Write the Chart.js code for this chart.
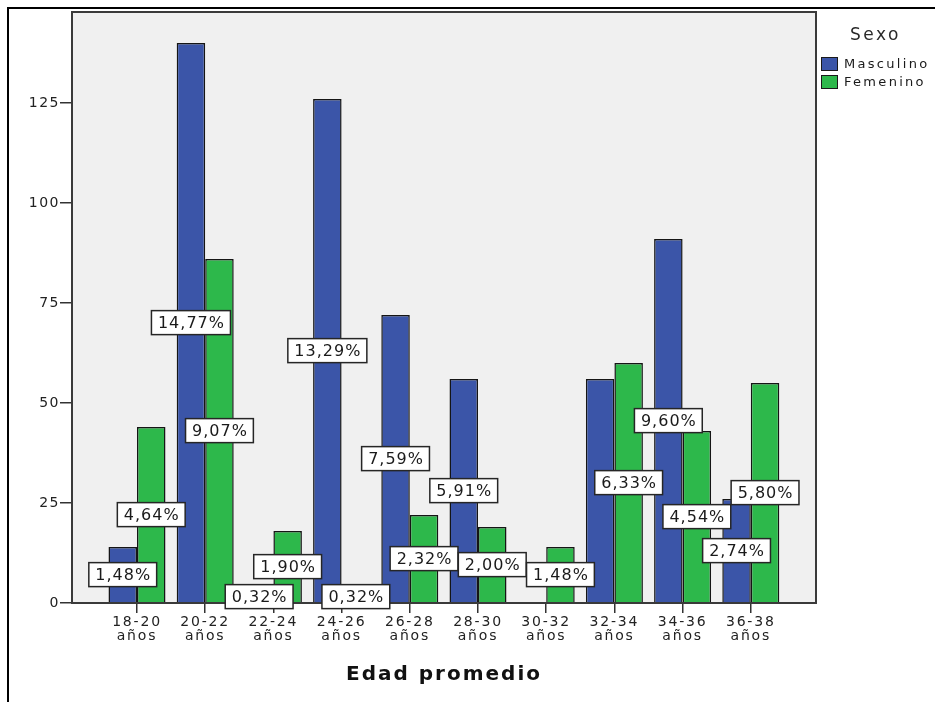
<!DOCTYPE html>
<html>
<head>
<meta charset="utf-8">
<script src="https://cdn.jsdelivr.net/npm/chart.js@4/dist/chart.umd.min.js"></script>
<style>
  html, body { margin: 0; padding: 0; background: #ffffff; }
  canvas { display: block; }
</style>
</head>
<body>
<canvas id="chart" width="935" height="702"></canvas>
<script>
// Age groups and head counts by sex
const categories = ['18-20 años', '20-22 años', '22-24 años', '24-26 años', '26-28 años',
                    '28-30 años', '30-32 años', '32-34 años', '34-36 años', '36-38 años'];
const masculino = [14, 140, 3, 126, 72, 56, 0, 56, 91, 26];
const femenino  = [44, 86, 18, 3, 22, 19, 14, 60, 43, 55];
const seriesNames = ['Masculino', 'Femenino'];
const yTickValues = [0, 25, 50, 75, 100, 125];
const legendTitle = 'Sexo';
const xAxisTitle = 'Edad promedio';

const FONT = '"DejaVu Sans", "Liberation Sans", Arial, sans-serif';
const COLORS = ['#3b55a8', '#2db84b'];

// total of all cells, used for the percentage labels
const grandTotal = masculino.concat(femenino).reduce((a, b) => a + b, 0);
const pctText = v => (v / grandTotal * 100).toFixed(2).replace('.', ',') + '%';

// Linear scale that draws its text with extra letter spacing
const spacing = { x: { ticks: 1.8, title: 2 }, y: { ticks: 1.5, title: 0 } };
class SpacedLinearScale extends Chart.LinearScale {
  drawLabels(area) {
    const c = this.ctx;
    c.save();
    c.letterSpacing = (spacing[this.id] ? spacing[this.id].ticks : 0) + 'px';
    super.drawLabels(area);
    c.restore();
  }
  drawTitle() {
    const c = this.ctx;
    c.save();
    c.letterSpacing = (spacing[this.id] ? spacing[this.id].title : 0) + 'px';
    super.drawTitle();
    c.restore();
  }
}
SpacedLinearScale.id = 'spacedLinear';
SpacedLinearScale.defaults = Chart.LinearScale.defaults;
Chart.register(SpacedLinearScale);

const toPoints = arr => arr.map((v, i) => ({ x: i, y: v }));

// plot panel background and frame
const panelPlugin = {
  id: 'panel',
  beforeDraw(chart) {
    const { ctx, chartArea: a } = chart;
    ctx.save();
    ctx.fillStyle = '#ffffff';
    ctx.fillRect(0, 0, chart.width, chart.height);
    ctx.fillStyle = '#f0f0f0';
    ctx.fillRect(a.left, a.top, a.right - a.left, a.bottom - a.top);
    ctx.restore();
  },
  afterDatasetsDraw(chart) {
    const { ctx, chartArea: a } = chart;
    ctx.save();
    ctx.strokeStyle = '#3a3a3a';
    ctx.lineWidth = 2;
    ctx.strokeRect(a.left, a.top, a.right - a.left, a.bottom - a.top);
    ctx.restore();
  }
};

// boxed percentage labels in the middle of each bar
const valueLabelPlugin = {
  id: 'valueLabels',
  afterDatasetsDraw(chart) {
    const { ctx } = chart;
    ctx.save();
    ctx.font = '16px ' + FONT;
    ctx.letterSpacing = '1px';
    ctx.textAlign = 'center';
    ctx.textBaseline = 'middle';
    const boxH = 24, padX = 6;
    const metas = chart.data.datasets.map((d, i) => chart.getDatasetMeta(i));
    categories.forEach((cat, idx) => {
      const items = [];
      metas.forEach((meta, di) => {
        const v = chart.data.datasets[di].data[idx].y;
        if (!v) return;
        const el = meta.data[idx];
        const text = pctText(v);
        const w = ctx.measureText(text).width + padX * 2;
        const cx = el.x, cy = (el.y + el.base) / 2;
        items.push({ v, text, x: cx - w / 2, y: cy - boxH / 2, w, h: boxH, cx, cy });
      });
      // when the two boxes of a group collide, keep the larger value
      let keep = items;
      if (items.length === 2) {
        const [p, q] = items;
        const hit = p.x < q.x + q.w && q.x < p.x + p.w && p.y < q.y + q.h && q.y < p.y + p.h;
        if (hit) keep = [p.v >= q.v ? p : q];
      }
      keep.forEach(b => {
        ctx.fillStyle = '#ffffff';
        ctx.fillRect(b.x, b.y, b.w, b.h);
        ctx.strokeStyle = '#262626';
        ctx.lineWidth = 1.5;
        ctx.strokeRect(b.x, b.y, b.w, b.h);
        ctx.fillStyle = '#1a1a1a';
        ctx.fillText(b.text, b.cx + 0.5, b.cy + 1);
      });
    });
    ctx.restore();
  }
};

// legend at the right plus the outer frame of the figure
const legendPlugin = {
  id: 'sideLegend',
  afterDraw(chart) {
    const { ctx } = chart;
    ctx.save();
    ctx.textAlign = 'left';
    ctx.textBaseline = 'middle';
    ctx.fillStyle = '#2a2a2a';
    ctx.font = '17px ' + FONT;
    ctx.letterSpacing = '2.5px';
    ctx.fillText(legendTitle, 850, 36);
    ctx.font = '13px ' + FONT;
    ctx.letterSpacing = '2.3px';
    chart.data.datasets.forEach((d, i) => {
      const y = 57 + i * 18;
      ctx.fillStyle = d.backgroundColor;
      ctx.fillRect(821, y, 17, 14);
      ctx.strokeStyle = '#1a1a1a';
      ctx.lineWidth = 1;
      ctx.strokeRect(821.5, y + 0.5, 16, 13);
      ctx.fillStyle = '#1a1a1a';
      ctx.fillText(d.label, 844, y + 7.5);
    });
    ctx.letterSpacing = '0px';
    ctx.strokeStyle = '#000000';
    ctx.lineWidth = 2;
    ctx.beginPath();
    ctx.moveTo(8, 710);
    ctx.lineTo(8, 8);
    ctx.lineTo(940, 8);
    ctx.stroke();
    ctx.restore();
  }
};

new Chart(document.getElementById('chart'), {
  type: 'bar',
  data: {
    datasets: [
      { label: seriesNames[0], data: toPoints(masculino), backgroundColor: COLORS[0] },
      { label: seriesNames[1], data: toPoints(femenino), backgroundColor: COLORS[1] }
    ]
  },
  options: {
    responsive: false,
    animation: false,
    devicePixelRatio: 1,
    layout: { padding: { top: 12, right: 119, left: 0, bottom: 0 } },
    datasets: {
      bar: {
        borderColor: '#151515',
        borderWidth: 1.5,
        categoryPercentage: 0.836,
        barPercentage: 1.0
      }
    },
    plugins: {
      legend: { display: false },
      tooltip: { enabled: false }
    },
    scales: {
      x: {
        type: 'spacedLinear',
        min: -0.953,
        max: 9.956,
        offset: false,
        afterBuildTicks: s => { s.ticks = categories.map((c, i) => ({ value: i })); },
        afterFit: s => { s.height = 99; },
        border: { display: false },
        grid: { offset: false, drawOnChartArea: false, drawTicks: true, tickLength: 10, color: '#333333', lineWidth: 1.5 },
        ticks: {
          autoSkip: false,
          maxRotation: 0,
          padding: 2,
          color: '#222222',
          font: { family: FONT, size: 14, lineHeight: 1.0 },
          callback: v => categories[v] ? categories[v].split(' ') : ''
        },
        title: {
          display: true,
          text: xAxisTitle,
          color: '#111111',
          font: { family: FONT, size: 20, weight: 'bold', lineHeight: 1.2 },
          padding: { top: 0, bottom: 15 }
        }
      },
      y: {
        type: 'spacedLinear',
        min: 0,
        max: 147.75,
        afterBuildTicks: s => { s.ticks = yTickValues.map(v => ({ value: v })); },
        afterFit: s => { s.width = 72; },
        border: { display: false },
        grid: { drawOnChartArea: false, drawTicks: true, tickLength: 12, color: '#333333', lineWidth: 1.5 },
        ticks: {
          padding: 0,
          color: '#222222',
          font: { family: FONT, size: 14 }
        }
      }
    }
  },
  plugins: [panelPlugin, valueLabelPlugin, legendPlugin]
});
</script>
</body>
</html>
